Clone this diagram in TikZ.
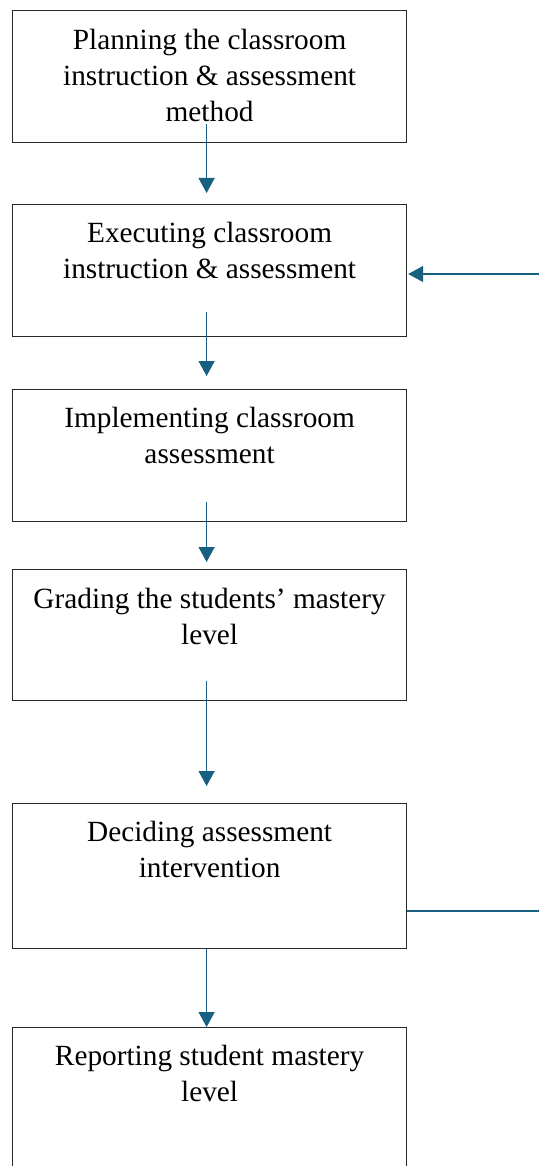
\documentclass[tikz,border=0pt]{standalone}
\usepackage{fontspec}
\setmainfont{Liberation Serif}
\definecolor{flowblue}{RGB}{24, 96, 130}
\definecolor{edgegray}{RGB}{40, 40, 40}
\usetikzlibrary{arrows.meta, positioning}

\begin{document}
\begin{tikzpicture}[x=1pt, y=-1pt,
  stepbox/.style={draw=edgegray, line width=1.2pt, inner sep=0pt, anchor=north west},
  flow/.style={draw=flowblue, line width=1.4pt, -{Triangle[width=16pt, length=15pt]}}]
  \clip (0, 0) rectangle (539, 1166);
  \fill[white] (0, 0) rectangle (539, 1166);

  % Step boxes
  \node[stepbox] (plan) at (12, 10) {\parbox[c][132pt][t]{394pt}{\centering\fontsize{29.3}{36}\selectfont
    \rule{0pt}{39pt}Planning the classroom\\ instruction \& assessment\\ method}};
  \node[stepbox] (exec) at (12, 204) {\parbox[c][132pt][t]{394pt}{\centering\fontsize{29.3}{36}\selectfont
    \rule{0pt}{38pt}Executing classroom\\ instruction \& assessment}};
  \node[stepbox] (impl) at (12, 389) {\parbox[c][132pt][t]{394pt}{\centering\fontsize{29.3}{36}\selectfont
    \rule{0pt}{38pt}Implementing classroom\\ assessment}};
  \node[stepbox] (grade) at (12, 569) {\parbox[c][131pt][t]{394pt}{\centering\fontsize{29.3}{36}\selectfont
    \rule{0pt}{39pt}Grading the students’ mastery\\ level}};
  \node[stepbox] (decide) at (12, 803) {\parbox[c][145pt][t]{394pt}{\centering\fontsize{29.3}{36}\selectfont
    \rule{0pt}{38pt}Deciding assessment\\ intervention}};
  \node[stepbox] (report) at (12, 1027) {\parbox[c][160pt][t]{394pt}{\centering\fontsize{29.3}{36}\selectfont
    \rule{0pt}{38pt}Reporting student mastery\\ level}};

  % Downward arrows
  \draw[flow, shorten <=-19pt, shorten >=11pt] ([xshift=-3pt]plan.south) -- ([xshift=-3pt]exec.north);
  \draw[flow, shorten <=-25pt, shorten >=13pt] ([xshift=-3pt]exec.south) -- ([xshift=-3pt]impl.north);
  \draw[flow, shorten <=-20pt, shorten >=7pt] ([xshift=-3pt]impl.south) -- ([xshift=-3pt]grade.north);
  \draw[flow, shorten <=-20pt, shorten >=17pt] ([xshift=-3pt]grade.south) -- ([xshift=-3pt]decide.north);
  \draw[flow] ([xshift=-3pt]decide.south) -- ([xshift=-3pt]report.north);

  % Loop back on the right
  \coordinate (loopin) at (539, 274);
  \coordinate (loopout) at (539, 911);
  \draw[flow, shorten >=1pt] (loopin) -- (loopin -| exec.east);
  \draw[draw=flowblue, line width=1.4pt] (loopout -| decide.east) -- (loopout);
\end{tikzpicture}
\end{document}
